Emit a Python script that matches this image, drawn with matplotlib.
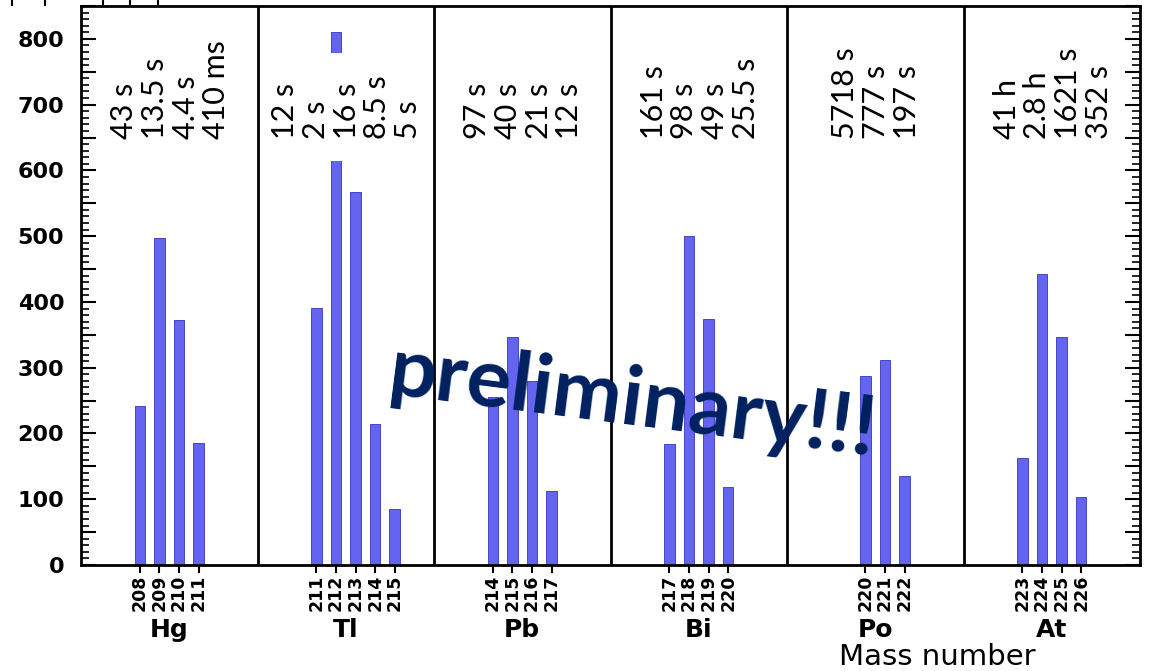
import matplotlib
matplotlib.use("Agg")
import matplotlib.pyplot as plt
from matplotlib.ticker import MultipleLocator, FuncFormatter
from matplotlib.lines import Line2D

# ---------------- data ----------------
elements = ["Hg", "Tl", "Pb", "Bi", "Po", "At"]
hg_mass = [208, 209, 210, 211]
tl_mass = [211, 212, 213, 214, 215]
pb_mass = [214, 215, 216, 217]
bi_mass = [217, 218, 219, 220]
po_mass = [220, 221, 222]
at_mass = [223, 224, 225, 226]

hg_counts = [242, 497, 373, 186]
tl_counts = [391, 810, 567, 214, 85]
pb_counts = [255, 347, 280, 113]
bi_counts = [184, 500, 374, 119]
po_counts = [287, 312, 135]
at_counts = [163, 443, 347, 103]

hg_half = ["43 s", "13.5 s", "4.4 s", "410 ms"]
tl_half = ["12 s", "2 s", "16 s", "8.5 s", "5 s"]
pb_half = ["97 s", "40 s", "21 s", "12 s"]
bi_half = ["161 s", "98 s", "49 s", "25.5 s"]
po_half = ["5718 s", "777 s", "197 s"]
at_half = ["41 h", "2.8 h", "1621 s", "352 s"]

masses = [hg_mass, tl_mass, pb_mass, bi_mass, po_mass, at_mass]
counts = [hg_counts, tl_counts, pb_counts, bi_counts, po_counts, at_counts]
halves = [hg_half, tl_half, pb_half, bi_half, po_half, at_half]

# ---------------- layout ----------------
panel_w = 9
first_slot = [3, 3, 3, 3, 4, 3]
bar_color = "#6464F0"
bar_edge = "#4646c0"

fig = plt.figure(figsize=(11.51, 6.71), dpi=100)
ax = fig.add_axes([81 / 1151, 106 / 671, 1059 / 1151, 559 / 671])

xt, xl = [], []
for k, (el, ms, cs, hs) in enumerate(zip(elements, masses, counts, halves)):
    left = k * panel_w
    xs = [left + first_slot[k] + i for i in range(len(ms))]
    ax.bar(xs, cs, width=0.54, color=bar_color, edgecolor=bar_edge,
           linewidth=0.7, zorder=2)
    xt += xs
    xl += [str(m) for m in ms]
    center = left + panel_w / 2
    # half-life block
    bb = None
    if el == "Tl":
        bb = dict(boxstyle="square,pad=0.72", facecolor="white", edgecolor="none")
    ax.text(center + 0.05, 648, "\n".join(hs), rotation=90, ha="center",
            va="bottom", multialignment="left", family="Lato", fontsize=22,
            linespacing=1.12, color="black", zorder=3, bbox=bb)
    # element label
    ax.text(center, -0.116, el, transform=ax.get_xaxis_transform(),
            ha="center", va="center", fontsize=18, fontweight="bold",
            family="DejaVu Sans", clip_on=False)
    if k > 0:
        ax.axvline(left, color="black", linewidth=2, zorder=4)

ax.set_xlim(0, panel_w * len(elements))
ax.set_ylim(0, 850)

ax.set_xticks(xt)
ax.set_xticklabels(xl, rotation=90, fontsize=12.5, fontweight="bold",
                   family="DejaVu Sans")
ax.tick_params(axis="x", direction="out", length=6, width=1.5, pad=1)

ax.yaxis.set_major_locator(MultipleLocator(50))
ax.yaxis.set_minor_locator(MultipleLocator(10))
ax.yaxis.set_major_formatter(FuncFormatter(lambda v, p: f"{int(v)}" if v % 100 == 0 else ""))
ax.tick_params(axis="y", which="major", direction="in", length=11, width=1.5,
               left=True, right=True, pad=12, labelsize=16)
ax.tick_params(axis="y", which="minor", direction="in", length=6, width=1.2,
               left=True, right=True)
for lab in ax.get_yticklabels():
    lab.set_fontweight("bold")
    lab.set_family("DejaVu Sans")

for s in ax.spines.values():
    s.set_linewidth(2)
    s.set_color("black")

# overlay watermark
ax.text(28.0, 213, "preliminary!!!", rotation=-7.3, rotation_mode="anchor",
        ha="center", va="baseline", family="Lato", fontweight="bold",
        fontsize=60, color="#00205f", zorder=5)

fig.text(937 / 1151, 1 - 665 / 671, "Mass number", ha="center", va="baseline",
         fontsize=21, family="DejaVu Sans")

# fragments of the cropped figure above
for px in [12, 45, 103, 130, 158]:
    fig.add_artist(Line2D([px / 1151, px / 1151], [1.0, 1 - 5 / 671],
                          transform=fig.transFigure, color="black", linewidth=1.5))

fig.savefig("out.png", dpi=100)
